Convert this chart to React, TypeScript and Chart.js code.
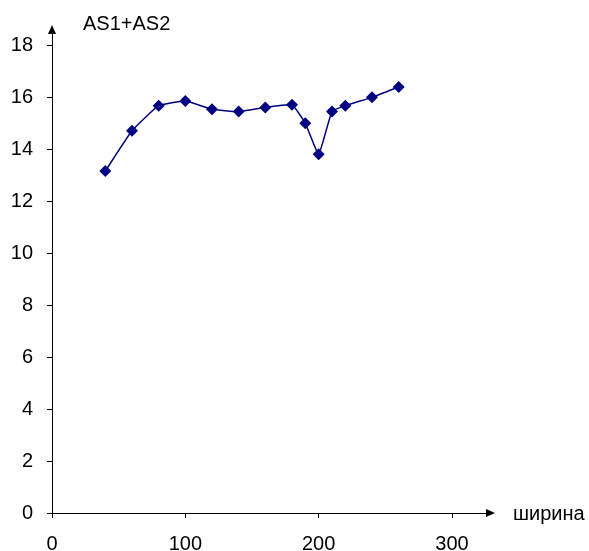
import React, { useEffect, useRef } from 'react';
import { Chart, registerables } from 'chart.js';

Chart.register(...registerables);

const widths = [40, 60, 80, 100, 120, 140, 160, 180, 190, 200, 210, 220, 240, 260];
const values = [13.18, 14.73, 15.7, 15.88, 15.56, 15.47, 15.63, 15.73, 15.02, 13.83, 15.47, 15.7, 16.02, 16.42];
const xTickValues = [0, 100, 200, 300];
const yTickValues = [0, 2, 4, 6, 8, 10, 12, 14, 16, 18];
const yTitle = 'AS1+AS2';
const xTitle = 'ширина';

const FONT = "'Liberation Sans', Arial, sans-serif";

const arrowPlugin = {
  id: 'arrows',
  afterDraw(chart: any) {
    const { ctx, chartArea } = chart;
    const { left, right, top, bottom } = chartArea;
    ctx.save();
    ctx.fillStyle = '#000';
    // y arrow
    ctx.beginPath();
    ctx.moveTo(left, top - 8);
    ctx.lineTo(left - 4, top + 1);
    ctx.lineTo(left + 4, top + 1);
    ctx.closePath();
    ctx.fill();
    // x arrow
    ctx.beginPath();
    ctx.moveTo(right + 3, bottom);
    ctx.lineTo(right - 6, bottom - 4);
    ctx.lineTo(right - 6, bottom + 4);
    ctx.closePath();
    ctx.fill();
    // titles
    ctx.font = `20px ${FONT}`;
    ctx.textBaseline = 'middle';
    ctx.textAlign = 'left';
    ctx.fillText(yTitle, left + 31, top - 9);
    ctx.fillText(xTitle, right + 21, bottom + 1);
    ctx.restore();
  },
};

export default function App() {
  const ref = useRef<HTMLCanvasElement>(null);
  useEffect(() => {
    if (!ref.current) return;
    const chart = new Chart(ref.current, {
      type: 'line',
      data: {
        datasets: [
          {
            data: widths.map((w, i) => ({ x: w, y: values[i] })),
            borderColor: '#000080',
            backgroundColor: '#000080',
            borderWidth: 1.5,
            pointStyle: 'rectRot',
            pointRadius: 6,
            pointBorderWidth: 0,
            pointBackgroundColor: '#000080',
            tension: 0.12,
            fill: false,
          },
        ],
      },
      options: {
        animation: false,
        responsive: false,
        layout: { padding: { top: 33, right: 97, left: 0, bottom: 0 } },
        plugins: { legend: { display: false }, tooltip: { enabled: false }, title: { display: false } },
        scales: {
          x: {
            type: 'linear',
            min: 0,
            max: 330,
            afterFit: (s: any) => { s.height = 38; },
            afterBuildTicks: (s: any) => { s.ticks = xTickValues.map((v) => ({ value: v })); },
            ticks: { font: { size: 20, family: FONT }, color: '#000', padding: 14, maxRotation: 0 },
            grid: { drawOnChartArea: false, color: '#000', tickLength: 5, lineWidth: 1 },
            border: { display: true, color: '#000', width: 1 },
          },
          y: {
            type: 'linear',
            min: 0,
            max: 18.5,
            afterFit: (s: any) => { s.width = 52; },
            afterBuildTicks: (s: any) => { s.ticks = yTickValues.map((v) => ({ value: v })); },
            ticks: { font: { size: 20, family: FONT }, color: '#000', padding: 14 },
            grid: { drawOnChartArea: false, color: '#000', tickLength: 5, lineWidth: 1 },
            border: { display: true, color: '#000', width: 1 },
          },
        },
      },
      plugins: [arrowPlugin],
    });
    return () => chart.destroy();
  }, []);
  return (
    <div style={{ position: 'absolute', left: 0, top: 0, width: 589, height: 551, background: '#fff' }}>
      <canvas ref={ref} width={589} height={551} style={{ width: 589, height: 551, display: 'block' }} />
    </div>
  );
}
